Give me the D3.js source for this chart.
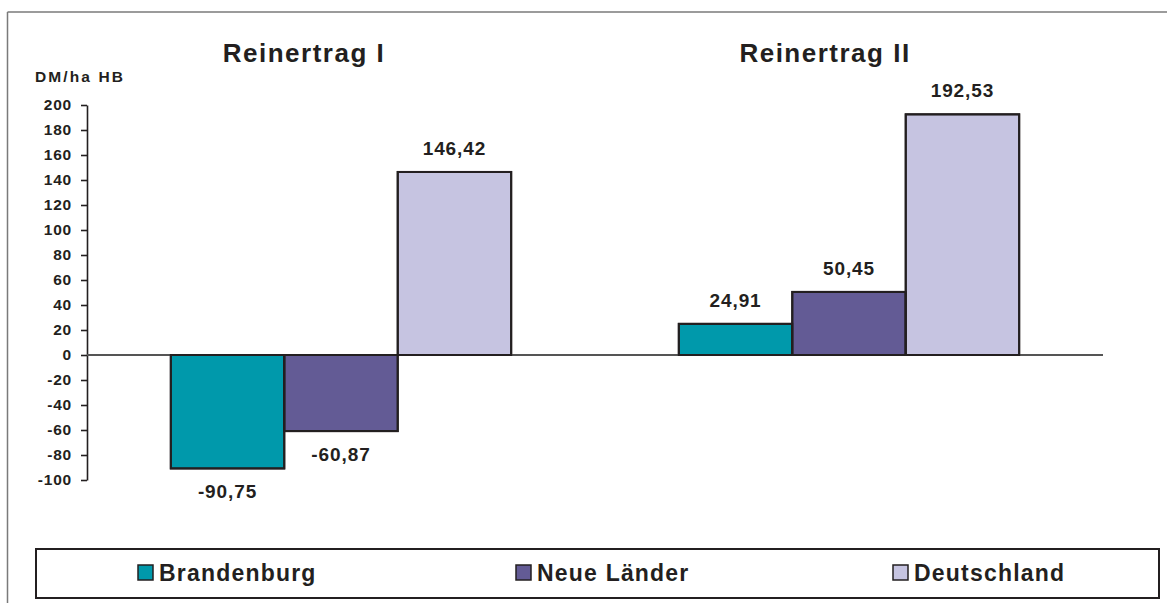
<!DOCTYPE html>
<html>
<head>
<meta charset="utf-8">
<script src="https://cdn.jsdelivr.net/npm/d3@7"></script>
<style>
  html, body { margin: 0; padding: 0; background: #fff; }
  svg { display: block; font-family: "Liberation Sans", Arial, Helvetica, sans-serif; font-weight: bold; }
</style>
</head>
<body>
<svg id="chart" width="1167" height="603"></svg>
<script>
const groups = ["Reinertrag I", "Reinertrag II"];
const series = ["Brandenburg", "Neue Länder", "Deutschland"];
const brandenburg = [-90.75, 24.91];
const neueLaender = [-60.87, 50.45];
const deutschland = [146.42, 192.53];
const colors = ["#0099ab", "#635b95", "#c6c4e1"];
const yTicks = [200, 180, 160, 140, 120, 100, 80, 60, 40, 20, 0, -20, -40, -60, -80, -100];
const yUnit = "DM/ha HB";

const values = [brandenburg, neueLaender, deutschland];
const fmt = v => v.toFixed(2).replace(".", ",");
const ink = "#231f20";

const svg = d3.select("#chart");

// outer frame (top and left visible)
svg.append("line").attr("x1", 7.5).attr("x2", 1167).attr("y1", 12).attr("y2", 12)
  .attr("stroke", "#7a7a7a").attr("stroke-width", 1.5);
svg.append("line").attr("x1", 7.5).attr("x2", 7.5).attr("y1", 12).attr("y2", 603)
  .attr("stroke", "#7a7a7a").attr("stroke-width", 1.5);

const x0 = d3.scaleBand().domain(groups).range([87, 1103]).paddingInner(0.33).paddingOuter(0.165);
const x1 = d3.scaleBand().domain(series).range([0, x0.bandwidth()]);
const y = d3.scaleLinear().domain([-100, 200]).range([480, 105]);

// y axis
const axis = svg.append("g").attr("transform", "translate(87,0)")
  .call(d3.axisLeft(y).tickValues(yTicks).tickFormat(d => String(d))
    .tickSize(6).tickPadding(9).tickSizeOuter(0));
axis.select(".domain").attr("stroke", ink).attr("stroke-width", 1.6);
axis.selectAll(".tick line").attr("stroke", ink).attr("stroke-width", 1.6);
axis.selectAll(".tick text").attr("fill", ink).attr("font-size", 15.5).attr("font-weight", "bold")
  .attr("font-family", "'Liberation Sans', Arial, sans-serif").attr("letter-spacing", 0.8);

svg.append("text").attr("x", 35).attr("y", 82).attr("fill", ink)
  .attr("font-size", 15.5).attr("letter-spacing", 2.1).text(yUnit);

// bars
const bars = [];
groups.forEach((g, gi) => {
  series.forEach((s, si) => {
    bars.push({ g, s, si, v: values[si][gi] });
  });
});

svg.append("g").selectAll("rect").data(bars).join("rect")
  .attr("x", d => x0(d.g) + x1(d.s))
  .attr("width", x1.bandwidth())
  .attr("y", d => y(Math.max(0, d.v)))
  .attr("height", d => Math.abs(y(d.v) - y(0)))
  .attr("fill", d => colors[d.si])
  .attr("stroke", ink).attr("stroke-width", 2);

// zero line
svg.append("line").attr("x1", 87).attr("x2", 1103).attr("y1", y(0)).attr("y2", y(0))
  .attr("stroke", "#555").attr("stroke-width", 1.8);
// redraw bar outlines over zero line
svg.append("g").selectAll("rect").data(bars).join("rect")
  .attr("x", d => x0(d.g) + x1(d.s))
  .attr("width", x1.bandwidth())
  .attr("y", d => y(Math.max(0, d.v)))
  .attr("height", d => Math.abs(y(d.v) - y(0)))
  .attr("fill", "none")
  .attr("stroke", ink).attr("stroke-width", 2);

// value labels
svg.append("g").selectAll("text").data(bars).join("text")
  .attr("x", d => x0(d.g) + x1(d.s) + x1.bandwidth() / 2)
  .attr("y", d => d.v >= 0 ? y(d.v) - 17 : y(d.v) + 30)
  .attr("text-anchor", "middle")
  .attr("fill", ink).attr("font-size", 19).attr("letter-spacing", 0.9)
  .text(d => fmt(d.v));

// group titles
const titleOffset = [-37, -24];
svg.append("g").selectAll("text").data(groups).join("text")
  .attr("x", (d, i) => x0(d) + x0.bandwidth() / 2 + titleOffset[i])
  .attr("y", 62)
  .attr("text-anchor", "middle")
  .attr("fill", ink).attr("font-size", 26).attr("letter-spacing", 1.5)
  .text(d => d);

// legend
svg.append("rect").attr("x", 36).attr("y", 549).attr("width", 1123).attr("height", 49)
  .attr("fill", "#fff").attr("stroke", ink).attr("stroke-width", 2);
const legendX = [138, 516, 893];
const lg = svg.append("g").selectAll("g").data(series).join("g")
  .attr("transform", (d, i) => `translate(${legendX[i]},565)`);
lg.append("rect").attr("width", 15).attr("height", 15)
  .attr("fill", (d, i) => colors[i]).attr("stroke", ink).attr("stroke-width", 1.5);
lg.append("text").attr("x", 21).attr("y", 16).attr("fill", ink)
  .attr("font-size", 23).attr("letter-spacing", 1.2).text(d => d);
</script>
</body>
</html>
